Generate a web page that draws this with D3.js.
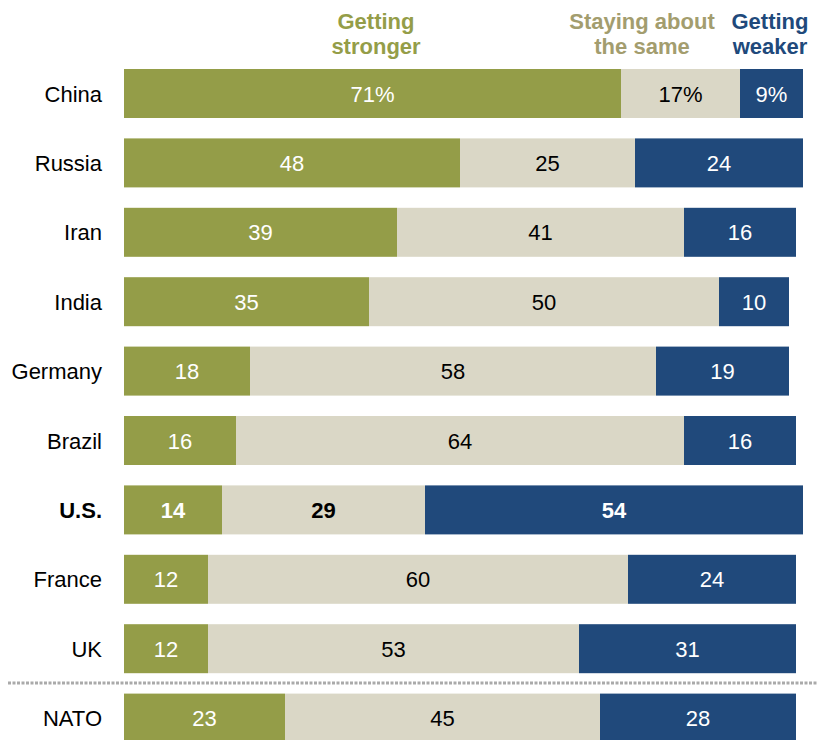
<!DOCTYPE html>
<html><head><meta charset="utf-8">
<script src="https://cdn.jsdelivr.net/npm/d3@7"></script>
<style>body{margin:0;background:#fff}</style>
</head><body><svg id="c" width="818" height="740"></svg>
<script>
const categories = ["China","Russia","Iran","India","Germany","Brazil","U.S.","France","UK","NATO"];
const stronger = [71,48,39,35,18,16,14,12,12,23];
const same = [17,25,41,50,58,64,29,60,53,45];
const weaker = [9,24,16,10,19,16,54,24,31,28];
const seriesNames = ["Getting stronger","Staying about the same","Getting weaker"];
const colors = ["#949d48","#dad7c6","#20497b"];
const textColors = ["#fff","#000","#fff"];
const headerColors = ["#949d48","#a39d6e","#20497b"];

const svg = d3.select("#c");
const font = "'Liberation Sans',Arial,sans-serif";
const x = d3.scaleLinear().domain([0,97]).range([124,803]);
const step = 69.4, bh = 49;
const y = d3.scaleBand().domain(categories).range([69, 69 + 9*step + bh]).paddingInner((step-bh)/step).paddingOuter(0);

const rows = categories.map((c,i)=>({c, vals:[stronger[i],same[i],weaker[i]]}));
rows.forEach((r,i)=>{
  let cum=0;
  const bold = r.c==="U.S.";
  const cy = y(r.c)+y.bandwidth()/2;
  r.vals.forEach((v,j)=>{
    const x0=x(cum), x1=x(cum+v);
    svg.append("rect").attr("x",x0).attr("y",y(r.c)).attr("width",x1-x0).attr("height",y.bandwidth()).attr("fill",colors[j]);
    svg.append("text").attr("x",(x0+x1)/2).attr("y",cy+8)
      .attr("text-anchor","middle").attr("fill",textColors[j])
      .style("font-family",font).style("font-size","22px").style("font-weight",bold?"bold":"normal")
      .text(v + (i===0?"%":""));
    cum+=v;
  });
  svg.append("text").attr("x",102).attr("y",cy+8).attr("text-anchor","end")
    .style("font-family",font).style("font-size","22px").style("font-weight",bold?"bold":"normal").attr("fill","#000").text(r.c);
});

// separator
svg.append("line").attr("x1",8).attr("x2",818).attr("y1",683).attr("y2",683)
  .attr("stroke","#aaa").attr("stroke-width",3).attr("stroke-dasharray","3,1.5");

// headers
const headers = [
  {lines:["Getting","stronger"], cx:376},
  {lines:["Staying about","the same"], cx:642},
  {lines:["Getting","weaker"], cx:770}
];
headers.forEach((h,j)=>{
  h.lines.forEach((l,k)=>{
    svg.append("text").attr("x",h.cx).attr("y",29+k*25).attr("text-anchor","middle")
      .attr("fill",headerColors[j]).style("font-family",font).style("font-size","22px").style("font-weight","bold").text(l);
  });
});
</script></body></html>
